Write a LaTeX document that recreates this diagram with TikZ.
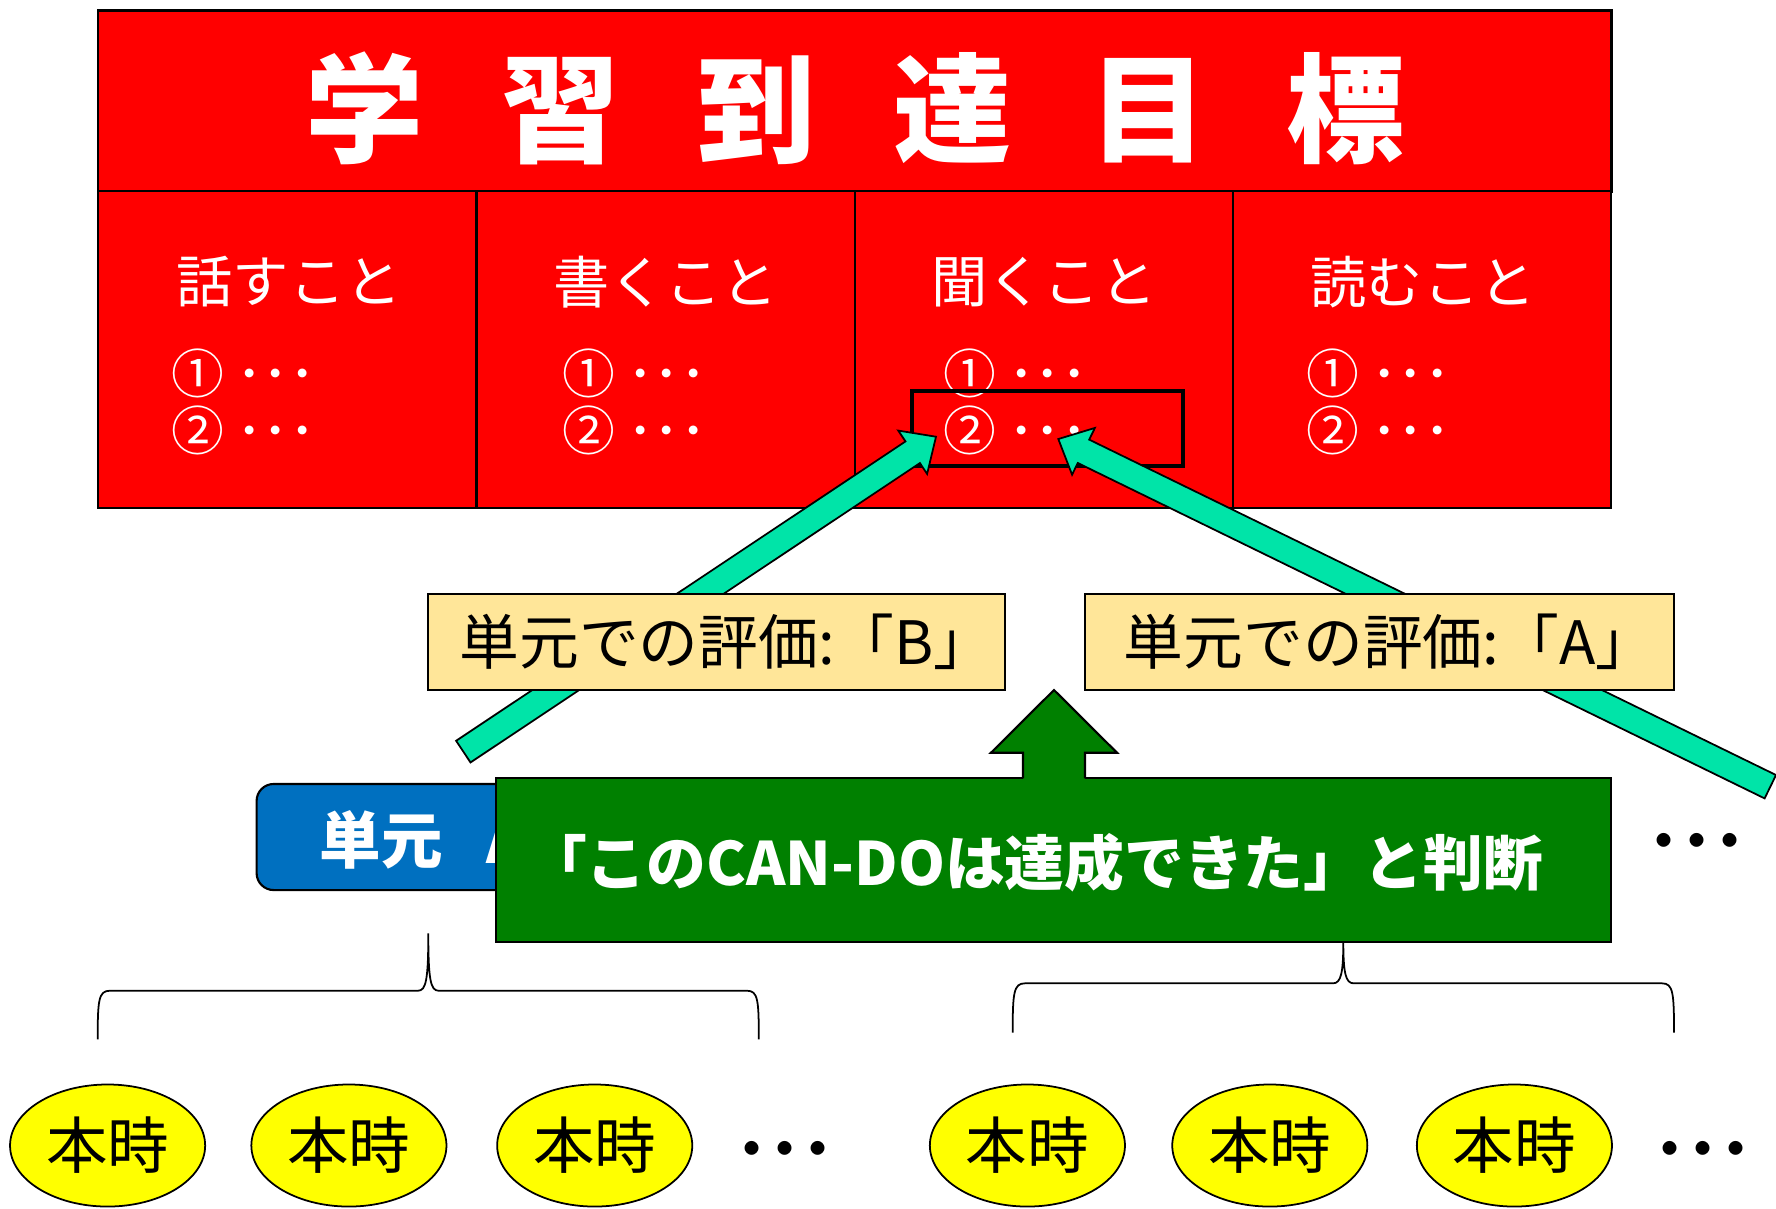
\documentclass[tikz,border=0pt]{standalone}
\usepackage{fontspec}
\setmainfont{Noto Sans CJK JP}
\usetikzlibrary{calc,shapes.geometric}
\definecolor{redc}{RGB}{255,0,0}
\definecolor{greenc}{RGB}{0,128,0}
\definecolor{bluec}{RGB}{0,112,192}
\definecolor{tealc}{RGB}{0,228,168}
\definecolor{labelc}{RGB}{255,230,153}
\definecolor{ellc}{RGB}{255,255,0}
\newcommand{\fsz}[1]{\fontsize{#1}{#1}\selectfont}
\newcommand{\myblockarrow}[2]{%
  \coordinate (ab) at ($(#2)!0.28cm!(#1)$);
  \filldraw[tealarrow] ($(#1)!0.13cm!90:(#2)$) -- ($(ab)!0.13cm!-90:(#1)$) -- ($(ab)!0.26cm!-90:(#1)$) -- (#2) -- ($(ab)!0.26cm!90:(#1)$) -- ($(ab)!0.13cm!90:(#1)$) -- ($(#1)!0.13cm!-90:(#2)$) -- cycle;}
\begin{document}
\begin{tikzpicture}[x=0.01cm,y=-0.01cm,
  cellbox/.style={draw=black, line width=0.6pt, fill=redc, inner sep=0pt},
  titletext/.style={text=white, inner sep=0pt, font=\fsz{33.6pt}\bfseries},
  headtext/.style={text=white, inner sep=0pt, font=\fsz{16pt}},
  itemtext/.style={text=white, inner sep=0pt, anchor=west, font=\fsz{15pt}},
  hlbox/.style={draw=black, line width=1.15pt, inner sep=0pt},
  tealarrow/.style={fill=tealc, draw=black, line width=0.5pt, line join=miter},
  labelbox/.style={draw=black, line width=0.5pt, fill=labelc, inner sep=0pt, minimum height=0.957cm, font=\fsz{17pt}},
  bluebox/.style={draw=black, line width=0.6pt, fill=bluec, rounded corners=0.17cm, inner sep=0pt},
  bluetext/.style={text=white, inner sep=0pt, anchor=west, font=\fsz{17.5pt}\bfseries},
  greenbox/.style={draw=black, line width=0.6pt, fill=greenc, inner sep=0pt},
  greentext/.style={text=white, inner sep=0pt, font=\fsz{17pt}\bfseries},
  bracestyle/.style={draw=black, line width=0.5pt},
  ellbox/.style={ellipse, draw=black, line width=0.5pt, fill=ellc, minimum width=1.95cm, minimum height=1.22cm, inner sep=0pt, font=\fsz{17.5pt}},
  dotstext/.style={text=black, inner sep=0pt, font=\fsz{18.8pt}\bfseries}
]
\useasboundingbox (0,0) rectangle (1776,1208);
\fill[white] (0,0) rectangle (1776,1208);

% goal table
\node[cellbox, minimum width=15.125cm, minimum height=1.809cm] (title) at (854.75,100.95) {};
\node[cellbox, minimum width=3.78125cm, minimum height=3.169cm] (c1) at (287.56,349.85) {};
\node[cellbox, minimum width=3.78125cm, minimum height=3.169cm] (c2) at (665.69,349.85) {};
\node[cellbox, minimum width=3.78125cm, minimum height=3.169cm] (c3) at (1043.81,349.85) {};
\node[cellbox, minimum width=3.78125cm, minimum height=3.169cm] (c4) at (1421.94,349.85) {};

\node[titletext] (ttl) at (854.75,108) {学\hspace{0.78cm}習\hspace{0.78cm}到\hspace{0.78cm}達\hspace{0.78cm}目\hspace{0.78cm}標};

\node[headtext] (h1) at (289,282) {話すこと};
\node[headtext] (h2) at (665.69,282) {書くこと};
\node[headtext] (h3) at (1043.81,282) {聞くこと};
\node[headtext] (h4) at (1423,282) {読むこと};

\node[itemtext] (i11) at (171,373.5) {① ･･･};
\node[itemtext] (i12) at (171,430) {② ･･･};
\node[itemtext] (i21) at (562,373.5) {① ･･･};
\node[itemtext] (i22) at (562,430) {② ･･･};
\node[itemtext] (i31) at (943,373.5) {① ･･･};
\node[itemtext] (i32) at (943,430) {② ･･･};
\node[itemtext] (i41) at (1306,373.5) {① ･･･};
\node[itemtext] (i42) at (1306,430) {② ･･･};

\node[hlbox, minimum width=2.716cm, minimum height=0.753cm] (hl) at (1047.5,428.35) {};

% teal arrows
\coordinate (t1) at (463.3,751.6);
\coordinate (p1) at (936,436.7);
\coordinate (t2) at (1770.3,786.7);
\coordinate (p2) at (1058.3,439);
\myblockarrow{t1}{p1}
\myblockarrow{t2}{p2}

% evaluation labels
\node[labelbox, minimum width=5.767cm] (lb) at (716.65,642.15) {\hspace{0.2cm}単元での評価:「B」};
\node[labelbox, minimum width=5.89cm] (la) at (1379.5,642.15) {\hspace{0.2cm}単元での評価:「A」};

% unit box
\node[bluebox, minimum width=3.633cm, minimum height=1.06cm] (unit) at (438.35,837) {};
\node[bluetext] (unittxt) at (319,840) {単元\hspace{0.44cm}A};

% judgement box
\node[greenbox, minimum width=11.143cm, minimum height=1.632cm] (judge) at (1053.85,859.9) {};
\node[greentext] (judgetxt) at (1035,863) {「このCAN-DOは達成できた」と判断};
\coordinate (gtip) at (1054,690);
\fill[greenc] (1023,780) -- (1023,752.7) -- (991,752.7) -- (gtip) -- (1117,752.7) -- (1085,752.7) -- (1085,780) -- cycle;
\draw[black, line width=0.6pt, line join=miter] (1023,778.3) -- (1023,752.7) -- (991,752.7) -- (gtip) -- (1117,752.7) -- (1085,752.7) -- (1085,778.3);

\node[dotstext] (dr) at (1697,849) {･･･};

% braces
\coordinate (bl1) at (97.7,1039.3);
\coordinate (bl2) at (758.8,1039.3);
\coordinate (blt) at (428.3,933.3);
\draw[bracestyle] (bl1) .. controls (97.7,1000) and (98.5,990.7) .. (110,990.7) -- (418,990.7) .. controls (426,990.7) and (428.3,980) .. (blt) .. controls (428.3,980) and (430.6,990.7) .. (438.6,990.7) -- (747,990.7) .. controls (758,990.7) and (758.8,1000) .. (bl2);
\coordinate (br1) at (1012.7,1032.7);
\coordinate (br2) at (1674,1032.7);
\coordinate (brt) at (1343.3,941.5);
\draw[bracestyle] (br1) .. controls (1012.7,993) and (1013.5,983.3) .. (1025,983.3) -- (1333,983.3) .. controls (1341,983.3) and (1343.3,973) .. (brt) .. controls (1343.3,973) and (1345.6,983.3) .. (1353.6,983.3) -- (1662,983.3) .. controls (1673.2,983.3) and (1674,993) .. (br2);

% lessons
\node[ellbox] (e1) at (107.6,1145.5) {本時};
\node[ellbox] (e2) at (348.9,1145.5) {本時};
\node[ellbox] (e3) at (594.7,1145.5) {本時};
\node[ellbox] (e4) at (1027.4,1145.5) {本時};
\node[ellbox] (e5) at (1269.8,1145.5) {本時};
\node[ellbox] (e6) at (1514.4,1145.5) {本時};
\node[dotstext] (d1) at (785,1157) {･･･};
\node[dotstext] (d2) at (1702.7,1157) {･･･};
\end{tikzpicture}
\end{document}
